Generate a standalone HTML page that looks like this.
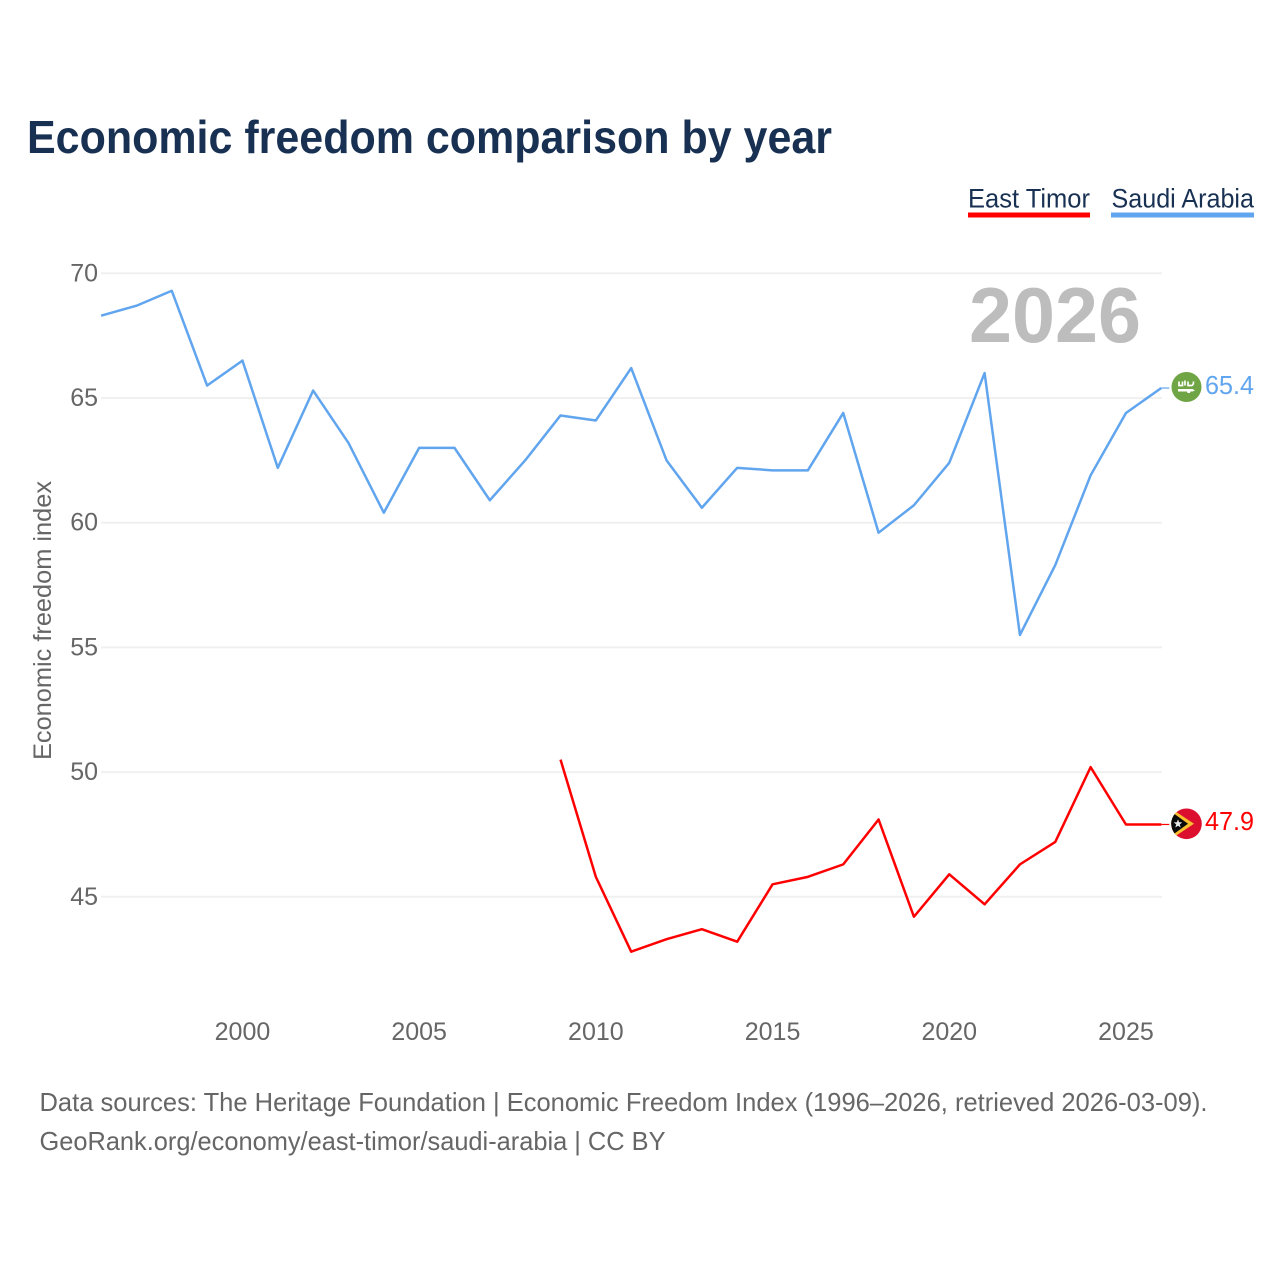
<!DOCTYPE html>
<html lang="en">
<head>
<meta charset="utf-8">
<title>Economic freedom comparison by year</title>
<style>
html,body{margin:0;padding:0;background:#fff;width:1280px;height:1280px;overflow:hidden}
svg{display:block;font-family:"Liberation Sans",sans-serif}
</style>
</head>
<body>
<svg id="chart" width="1280" height="1280" viewBox="0 0 1280 1280" xmlns="http://www.w3.org/2000/svg">
  <rect width="1280" height="1280" fill="#ffffff"/>
  <text x="27" y="153" font-size="46" font-weight="700" fill="#183153" textLength="805" lengthAdjust="spacingAndGlyphs">Economic freedom comparison by year</text>

  <g>
    <g>
      <text x="968" y="207.500" font-size="27" fill="#183153" textLength="122" lengthAdjust="spacingAndGlyphs">East Timor</text>
      <rect x="968" y="212.500" width="122" height="5" fill="#ff0000"/>
    </g>
    <g>
      <text x="1111.500" y="207.500" font-size="27" fill="#183153" textLength="142.500" lengthAdjust="spacingAndGlyphs">Saudi Arabia</text>
      <rect x="1111" y="212.500" width="143" height="5" fill="#60a5ee"/>
    </g>
  </g>

  <g id="grid"></g>
  <g id="yticks"></g>
  <g id="xticks"></g>

  <text x="969" y="342" font-size="78" font-weight="700" fill="#bdbdbd" textLength="172" lengthAdjust="spacingAndGlyphs">2026</text>

  <text transform="translate(51,760) rotate(-90)" font-size="25" fill="#666666" textLength="279" lengthAdjust="spacingAndGlyphs">Economic freedom index</text>

  <g id="series"></g>

  <g>
    <circle cx="1186.500" cy="387" r="15" fill="#6fa544"/>
    <path d="M1179 381.500v4h3.500v-4M1185 380.500v5M1188 381.500v4h3.500q2 0 2-4" fill="none" stroke="#ffffff" stroke-width="1.700"/>
    <path d="M1178 389h14.500l2.500 1.500-2.500 1h-2l-.5 1.500h-2.500l-.5-1.500h-9z" fill="#ffffff"/>
  </g>
  <text id="label-saudi" x="1205" y="394" font-size="26" fill="#60a5ee" textLength="49" lengthAdjust="spacingAndGlyphs"></text>

  <g>
    <clipPath id="tl-clip"><circle cx="1186.500" cy="823.800" r="15.300"/></clipPath>
    <g clip-path="url(#tl-clip)">
      <rect x="1171" y="808" width="31" height="32" fill="#dc0f2e"/>
      <path d="M1171 808.500L1194 823.800L1171 839z" fill="#fbc02d"/>
      <path d="M1171 811.500L1188 823.800L1171 836z" fill="#0a0a0a"/>
      <path d="M1178 819.300l1.100 3 3.200.1-2.500 2 .9 3.100-2.700-1.800-2.700 1.800.9-3.100-2.500-2 3.200-.1z" fill="#e8e8e8"/>
    </g>
  </g>
  <text id="label-timor" x="1205" y="830" font-size="26" fill="#ff0000" textLength="49" lengthAdjust="spacingAndGlyphs"></text>

  <g>
    <text x="39.500" y="1111" font-size="26" fill="#666666" textLength="1168" lengthAdjust="spacingAndGlyphs">Data sources: The Heritage Foundation | Economic Freedom Index (1996–2026, retrieved 2026-03-09).</text>
    <text x="39.500" y="1150" font-size="26" fill="#666666" textLength="626" lengthAdjust="spacingAndGlyphs">GeoRank.org/economy/east-timor/saudi-arabia | CC BY</text>
  </g>
</svg>
<script>
const startYear = 1996;
const saudiYears = [1996,1997,1998,1999,2000,2001,2002,2003,2004,2005,2006,2007,2008,2009,2010,2011,2012,2013,2014,2015,2016,2017,2018,2019,2020,2021,2022,2023,2024,2025,2026];
const saudiValues = [68.3,68.7,69.3,65.5,66.5,62.2,65.3,63.2,60.4,63.0,63.0,60.9,62.5,64.3,64.1,66.2,62.5,60.6,62.2,62.1,62.1,64.4,59.6,60.7,62.4,66.0,55.5,58.3,61.9,64.4,65.4];
const timorYears = [2009,2010,2011,2012,2013,2014,2015,2016,2017,2018,2019,2020,2021,2022,2023,2024,2025,2026];
const timorValues = [50.5,45.8,42.8,43.3,43.7,43.2,45.5,45.8,46.3,48.1,44.2,45.9,44.7,46.3,47.2,50.2,47.9,47.9];
const yTickValues = [70,65,60,55,50,45];
const xTickValues = [2000,2005,2010,2015,2020,2025];

const SVGNS = 'http://www.w3.org/2000/svg';
function xScale(year){ return 101.1 + (year - startYear) * 35.34; }
function yScale(value){ return 273.3 + (70 - value) * 24.94; }

const gridG = document.getElementById('grid');
const yG = document.getElementById('yticks');
yTickValues.forEach(function(v){
  const line = document.createElementNS(SVGNS,'line');
  
  
  line.setAttribute('x1', 101);
  line.setAttribute('x2', 1162);
  line.setAttribute('y1', yScale(v));
  line.setAttribute('y2', yScale(v));
  line.setAttribute('stroke', '#f0f0f0');
  line.setAttribute('stroke-width', '2');
  gridG.appendChild(line);
  const t = document.createElementNS(SVGNS,'text');
  
  
  t.setAttribute('x', 98);
  t.setAttribute('y', yScale(v) + 8);
  t.setAttribute('text-anchor', 'end');
  t.setAttribute('font-size', '25');
  t.setAttribute('fill', '#666666');
  t.textContent = v;
  yG.appendChild(t);
});

const xG = document.getElementById('xticks');
xTickValues.forEach(function(y){
  const t = document.createElementNS(SVGNS,'text');
  
  
  t.setAttribute('x', xScale(y));
  t.setAttribute('y', 1040);
  t.setAttribute('text-anchor', 'middle');
  t.setAttribute('font-size', '25');
  t.setAttribute('fill', '#666666');
  t.textContent = y;
  xG.appendChild(t);
});

function drawSeries(years, values, color){
  const p = document.createElementNS(SVGNS,'polyline');
  
  
  p.setAttribute('fill', 'none');
  p.setAttribute('stroke', color);
  p.setAttribute('stroke-width', '2.500');
  p.setAttribute('stroke-linejoin', 'round');
  p.setAttribute('points', years.map(function(y,i){ return xScale(y).toFixed(2) + ',' + yScale(values[i]).toFixed(2); }).join(' '));
  document.getElementById('series').appendChild(p);
  const lastX = xScale(years[years.length-1]);
  const lastY = yScale(values[values.length-1]);
  const c = document.createElementNS(SVGNS,'line');
  
  
  c.setAttribute('x1', lastX);
  c.setAttribute('x2', lastX + 8);
  c.setAttribute('y1', lastY);
  c.setAttribute('y2', lastY);
  c.setAttribute('stroke', color);
  c.setAttribute('stroke-width', '1.200');
  document.getElementById('series').appendChild(c);
}
drawSeries(timorYears, timorValues, '#ff0000');
drawSeries(saudiYears, saudiValues, '#60a5ee');

document.getElementById('label-saudi').textContent = saudiValues[saudiValues.length-1].toFixed(1);
document.getElementById('label-timor').textContent = timorValues[timorValues.length-1].toFixed(1);
</script>
</body>
</html>
